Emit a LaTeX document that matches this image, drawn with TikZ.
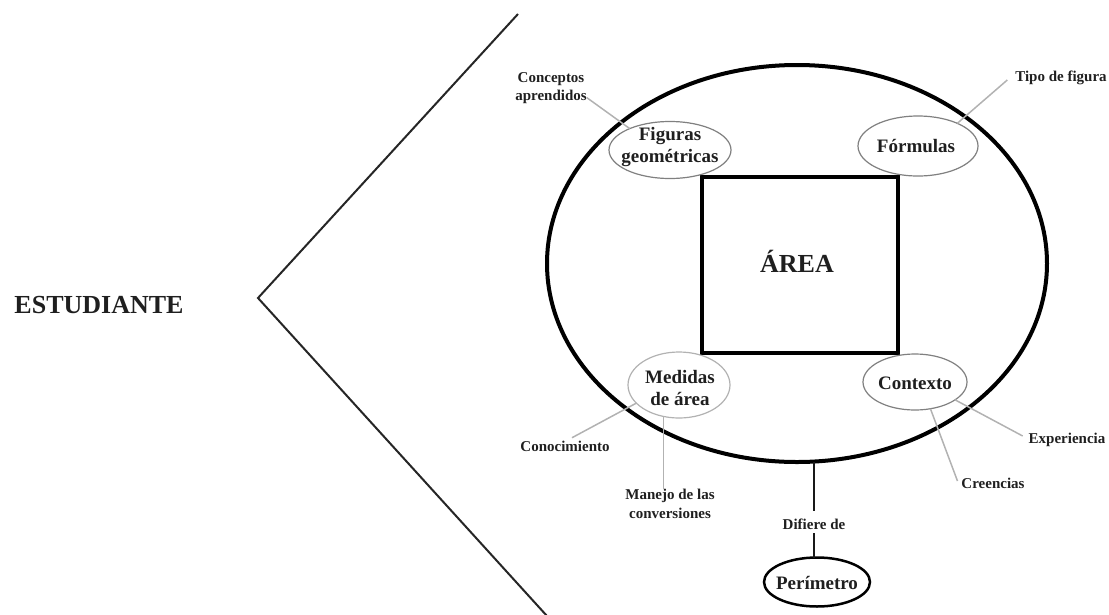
\documentclass[tikz,border=0pt]{standalone}
\usepackage{fontspec}
\setmainfont{Liberation Serif}
\usetikzlibrary{shapes.geometric}
\begin{document}
\begin{tikzpicture}[x=1pt,y=-1pt,
  every node/.style={inner sep=0pt, outer sep=0pt, text=black!88},
  bubble/.style={ellipse, draw=black!50, line width=1.2pt},
  bubbletext/.style={align=center, font=\fontsize{19}{21.5}\selectfont\bfseries},
  tag/.style={align=center, font=\fontsize{15}{18.5}\selectfont\bfseries},
  conn/.style={draw=black!30, line width=1.5pt},
  stem/.style={draw=black!90, line width=2pt},
]
\useasboundingbox (0,0) rectangle (1109,614);

% outer angle enclosing the concept map
\coordinate (upper) at (518,14);
\coordinate (vertex) at (258,298);
\coordinate (lower) at (547,616);
\draw[black!85, line width=2pt] (upper) -- (vertex) -- (lower);

\node[anchor=base, font=\fontsize{26}{30}\selectfont\bfseries] (est) at (99,313) {ESTUDIANTE};

% big ellipse and central square
\node[ellipse, draw=black, line width=4pt, minimum width=500pt, minimum height=397pt] (big) at (797,263.5) {};
\node[draw=black, line width=4pt, minimum width=196pt, minimum height=176pt] (sq) at (800,265) {};
\node[anchor=base, font=\fontsize{26}{30}\selectfont\bfseries] (area) at (797,272) {ÁREA};

% corner bubbles
\node[bubble, minimum width=122pt, minimum height=57pt, fill=white] (fig) at (670,150) {};
\node[bubbletext] (figt) at (670,147) {Figuras\\geométricas};

\node[bubble, minimum width=120pt, minimum height=60pt, fill=white] (form) at (918,146) {};
\node[bubbletext] (formt) at (916,146) {Fórmulas};

\node[bubble, draw=black!30, minimum width=102pt, minimum height=66pt, fill=white] (med) at (679,385) {};
\node[bubbletext] (medt) at (680,388) {Medidas\\de área};

\node[bubble, minimum width=104pt, minimum height=56pt, fill=white] (ctx) at (915,382) {};
\node[bubbletext] (ctxt) at (915,383) {Contexto};

% labels around the bubbles
\node[tag] (conc) at (551,88) {Conceptos\\aprendidos};
\node[tag] (tipo) at (1061,78) {Tipo de figura};
\node[tag] (conoc) at (565,446) {Conocimiento};
\node[tag] (manejo) at (670,504) {Manejo de las\\conversiones};
\node[tag] (exp) at (1067,440) {Experiencia};
\node[tag] (cree) at (993,483) {Creencias};

\draw[conn] (conc.-15) -- (fig.152);
\draw[conn] ([xshift=-8pt,yshift=-2pt]tipo.west) -- (form.30);
\draw[conn] ([xshift=7pt,yshift=3pt]conoc.north) -- (med.203);
\draw[conn] (med.244) -- (med.244 |- manejo.north);
\draw[conn] (ctx.-24) -- ([xshift=-6pt,yshift=4pt]exp.west);
\draw[conn] (ctx.-60) -- ([xshift=-4pt,yshift=2pt]cree.west);

% link to the perimeter
\node[tag] (dif) at (814,524) {Difiere de};
\node[ellipse, draw=black, line width=2.5pt, minimum width=106pt, minimum height=49pt] (per) at (817,582) {};
\node[bubbletext] (pert) at (817,583) {Perímetro};
\draw[stem, shorten >=8pt] (dif.north |- big.south) -- (dif.north);
\draw[stem, shorten <=4pt] (dif.south) -- (dif.south |- per.north);
\end{tikzpicture}
\end{document}
